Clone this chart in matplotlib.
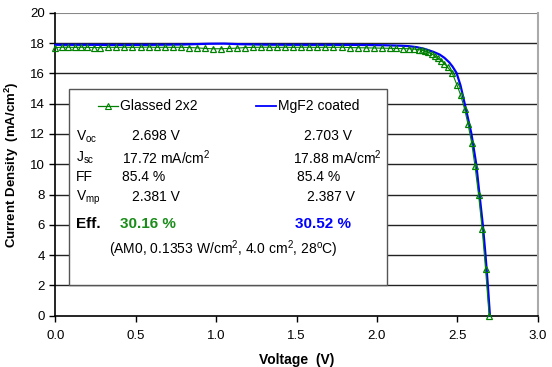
import matplotlib
matplotlib.use("Agg")
import matplotlib.pyplot as plt
from matplotlib.patches import Rectangle
from matplotlib.lines import Line2D

plt.rcParams['font.family'] = ['Liberation Sans', 'DejaVu Sans']
plt.rcParams['mathtext.fontset'] = 'custom'
plt.rcParams['mathtext.rm'] = 'Liberation Sans'
plt.rcParams['mathtext.bf'] = 'Liberation Sans:bold'

# Glassed 2x2 cell: measured I-V points
v_glassed = [0.00, 0.04, 0.08, 0.12, 0.16, 0.20, 0.24, 0.28, 0.33, 0.38,
             0.43, 0.48, 0.53, 0.58, 0.63, 0.68, 0.73, 0.78, 0.83, 0.88,
             0.93, 0.98, 1.03, 1.08, 1.13, 1.18, 1.23, 1.28, 1.33, 1.38,
             1.43, 1.48, 1.53, 1.58, 1.63, 1.68, 1.73, 1.78, 1.83, 1.88,
             1.93, 1.98, 2.03, 2.08, 2.12, 2.16, 2.20, 2.23, 2.26, 2.28,
             2.30, 2.32, 2.34, 2.36, 2.38, 2.40, 2.42, 2.44, 2.468, 2.497,
             2.52, 2.545, 2.566, 2.589, 2.61, 2.632, 2.655, 2.676, 2.698]
j_glassed = [17.70, 17.72, 17.72, 17.71, 17.72, 17.71, 17.70, 17.70, 17.72, 17.71,
             17.72, 17.71, 17.72, 17.73, 17.71, 17.72, 17.71, 17.72, 17.70, 17.68,
             17.64, 17.62, 17.62, 17.64, 17.66, 17.70, 17.71, 17.72, 17.72, 17.71,
             17.72, 17.71, 17.72, 17.72, 17.71, 17.72, 17.71, 17.72, 17.70, 17.69,
             17.68, 17.67, 17.66, 17.65, 17.64, 17.63, 17.62, 17.60, 17.56, 17.52,
             17.46, 17.38, 17.28, 17.15, 17.00, 16.84, 16.64, 16.40, 16.03, 15.25,
             14.59, 13.66, 12.67, 11.43, 9.88, 8.00, 5.70, 3.05, 0.00]

# MgF2 coated cell: measured I-V curve
v_mgf2 = [0.00, 0.20, 0.40, 0.60, 0.80, 0.95, 1.05, 1.15, 1.30, 1.50,
          1.70, 1.90, 2.05, 2.15, 2.20, 2.25, 2.30, 2.35, 2.39, 2.42,
          2.45, 2.47, 2.495, 2.52, 2.545, 2.565, 2.587, 2.60, 2.618, 2.638,
          2.659, 2.676, 2.69, 2.703]
j_mgf2 = [17.88, 17.88, 17.87, 17.88, 17.90, 17.95, 17.96, 17.92, 17.89, 17.88,
          17.88, 17.87, 17.85, 17.82, 17.79, 17.72, 17.60, 17.42, 17.24, 17.02,
          16.72, 16.45, 16.03, 15.20, 14.04, 13.10, 12.05, 11.20, 9.99, 8.00,
          5.97, 3.93, 2.00, 0.00]

y_ticks = [0, 2, 4, 6, 8, 10, 12, 14, 16, 18, 20]
x_ticks = [0.0, 0.5, 1.0, 1.5, 2.0, 2.5, 3.0]

green = '#008000'
blue = '#0000ff'

W, H = 552, 367
fig = plt.figure(figsize=(W / 100, H / 100), dpi=100)
ax = fig.add_axes([55.3 / W, 1 - 315.7 / H, (537.7 - 55.3) / W, (315.7 - 12.7) / H])

ax.set_xlim(0, 3.0)
ax.set_ylim(0, 20)
ax.set_xticks(x_ticks)
ax.set_xticklabels([f"{t:.1f}" for t in x_ticks])
ax.set_yticks(y_ticks)
ax.tick_params(axis='both', direction='out', length=4, width=1, labelsize=9.5, colors='black')
ax.tick_params(axis='x', pad=6)

# horizontal gridlines
for yv in y_ticks[1:-1]:
    ax.axhline(yv, color='#222222', lw=1.0, zorder=1)
ax.axhline(20, color='#888888', lw=1.5, zorder=1)

ax.spines['top'].set_visible(False)
ax.spines['right'].set_color('#aaaaaa')
ax.spines['right'].set_linewidth(1.5)
ax.spines['left'].set_linewidth(1.2)
ax.spines['bottom'].set_linewidth(1.2)

ax.plot(v_mgf2, j_mgf2, color=blue, lw=1.6, zorder=3, clip_on=False)
ax.plot(v_glassed, j_glassed, color=green, lw=0.8, marker='^', ms=4.2,
        mfc='none', mec=green, mew=0.9, zorder=4, clip_on=False)

ax.set_xlabel('Voltage  (V)', fontsize=10, fontweight='bold', labelpad=8)
ax.set_ylabel('Current Density  (mA/cm$^\\mathbf{2}$)', fontsize=9.5, fontweight='bold')
ax.yaxis.set_label_coords((21 - 55.3) / (537.7 - 55.3), 0.5)

# parameters box
box = Rectangle((69.3 / W, 1 - 285 / H), (386.7 - 69.3) / W, (285 - 88.5) / H,
                transform=fig.transFigure, facecolor='white', edgecolor='#555555',
                lw=1.0, zorder=5)
fig.add_artist(box)


def ftext(x, y, s, **kw):
    kw.setdefault('fontsize', 10)
    kw.setdefault('va', 'center')
    kw.setdefault('ha', 'left')
    t = fig.text(x / W, 1 - y / H, s, **kw)
    t.set_zorder(6)
    return t


# legend entries
fig.add_artist(Line2D([98 / W, 118 / W], [1 - 106 / H, 1 - 106 / H], transform=fig.transFigure,
                      color=green, lw=0.9, zorder=6))
fig.add_artist(Line2D([108 / W], [1 - 106 / H], transform=fig.transFigure, color=green,
                      marker='^', ms=4, mfc='none', mec=green, mew=0.8, ls='none', zorder=6))
ftext(120, 106, 'Glassed 2x2')
fig.add_artist(Line2D([256 / W, 276 / W], [1 - 106 / H, 1 - 106 / H], transform=fig.transFigure,
                      color=blue, lw=1.3, zorder=6))
ftext(278, 106, 'MgF2 coated')

ftext(76, 137, 'V$_{\\mathrm{oc}}$')
ftext(132, 136.5, '2.698 V')
ftext(304, 136.5, '2.703 V')

ftext(76, 158, 'J$_{\\mathrm{sc}}$')
ftext(122, 158, '17.72 mA/cm$^2$')
ftext(293, 158, '17.88 mA/cm$^2$')

ftext(76, 177, 'FF')
ftext(122, 177, '85.4 %')
ftext(297, 177, '85.4 %')

ftext(76, 198, 'V$_{\\mathrm{mp}}$')
ftext(132, 197, '2.381 V')
ftext(307, 197, '2.387 V')

ftext(76, 224, 'Eff.', fontweight='bold', fontsize=11)
ftext(120, 224, '30.16 %', fontweight='bold', fontsize=11, color='#1a8c1a')
ftext(295, 224, '30.52 %', fontweight='bold', fontsize=11, color=blue)

ftext(109, 249, '(AM0, 0.1353 W/cm$^2$, 4.0 cm$^2$, 28$^{\\mathrm{o}}$C)')

fig.savefig('out.png', dpi=100)
